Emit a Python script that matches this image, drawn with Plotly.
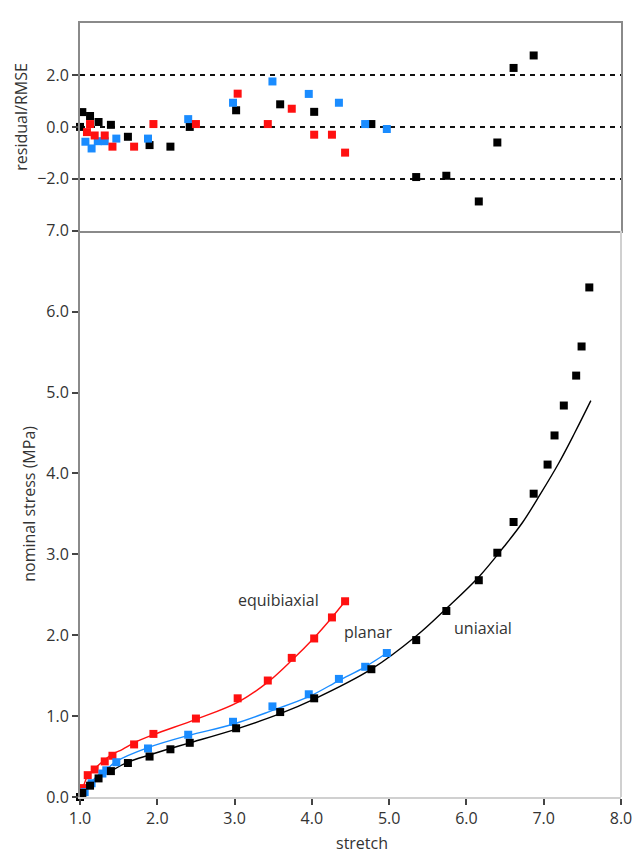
import plotly.graph_objects as go

# ---- measured stress-stretch data (MPa) ----
uni_x = [1.00, 1.03, 1.13, 1.24, 1.40, 1.62, 1.90, 2.17, 2.42, 3.02, 3.59, 4.03, 4.77,
         5.35, 5.74, 6.16, 6.40, 6.61, 6.87, 7.05, 7.14, 7.26, 7.42, 7.49, 7.59]
uni_y = [0.00, 0.05, 0.14, 0.23, 0.32, 0.42, 0.50, 0.59, 0.67, 0.85, 1.05, 1.22, 1.58,
         1.94, 2.30, 2.68, 3.02, 3.40, 3.75, 4.11, 4.47, 4.84, 5.21, 5.57, 6.30]

equi_x = [1.04, 1.10, 1.19, 1.32, 1.42, 1.70, 1.95, 2.50, 3.04, 3.43, 3.74, 4.03, 4.26, 4.43]
equi_y = [0.11, 0.27, 0.34, 0.44, 0.51, 0.65, 0.78, 0.97, 1.22, 1.44, 1.72, 1.96, 2.22, 2.42]

plan_x = [1.06, 1.15, 1.29, 1.34, 1.47, 1.88, 2.40, 2.98, 3.49, 3.96, 4.35, 4.69, 4.97]
plan_y = [0.06, 0.17, 0.29, 0.33, 0.43, 0.60, 0.77, 0.93, 1.12, 1.27, 1.46, 1.61, 1.78]

# ---- fitted model curves ----
uni_fit_x = [1.00, 1.05, 1.13, 1.24, 1.40, 1.62, 1.90, 2.17, 2.42, 3.02, 3.59, 4.03, 4.77,
             5.35, 5.74, 6.16, 6.49, 6.73, 6.96, 7.19, 7.40, 7.61]
uni_fit_y = [0.00, 0.07, 0.15, 0.23, 0.32, 0.43, 0.52, 0.60, 0.67, 0.84, 1.03, 1.21, 1.58,
             1.99, 2.33, 2.72, 3.10, 3.40, 3.75, 4.12, 4.50, 4.90]

equi_fit_x = [1.00, 1.04, 1.10, 1.19, 1.32, 1.42, 1.55, 1.70, 1.95, 2.50, 3.04, 3.43,
              3.74, 4.03, 4.26, 4.43]
equi_fit_y = [0.00, 0.12, 0.26, 0.35, 0.46, 0.53, 0.59, 0.67, 0.77, 0.96, 1.17, 1.42,
              1.69, 1.97, 2.22, 2.42]

plan_fit_x = [1.00, 1.06, 1.15, 1.25, 1.34, 1.47, 1.88, 2.40, 2.98, 3.49, 3.96, 4.35, 4.69, 4.97]
plan_fit_y = [0.00, 0.08, 0.19, 0.28, 0.34, 0.44, 0.61, 0.76, 0.90, 1.07, 1.24, 1.44, 1.61, 1.78]

# ---- normalised residuals ----
uni_res_x = [1.00, 1.03, 1.13, 1.24, 1.40, 1.62, 1.90, 2.17, 2.42, 3.02, 3.59, 4.03, 4.77,
             5.35, 5.74, 6.16, 6.40, 6.61, 6.87]
uni_res = [0.00, 0.57, 0.42, 0.19, 0.08, -0.38, -0.70, -0.76, 0.00, 0.64, 0.87, 0.58, 0.11,
           -1.93, -1.88, -2.87, -0.60, 2.27, 2.75]

equi_res_x = [1.09, 1.13, 1.19, 1.32, 1.42, 1.70, 1.95, 2.50, 3.04, 3.43, 3.74, 4.03, 4.26, 4.43]
equi_res = [-0.20, 0.11, -0.33, -0.33, -0.76, -0.76, 0.11, 0.11, 1.28, 0.11, 0.70, -0.30,
            -0.30, -0.99]

plan_res_x = [1.07, 1.15, 1.23, 1.32, 1.47, 1.88, 2.40, 2.98, 3.49, 3.96, 4.35, 4.69, 4.97]
plan_res = [-0.57, -0.83, -0.55, -0.55, -0.45, -0.45, 0.30, 0.93, 1.75, 1.27, 0.93, 0.11, -0.08]

x_ticks = [1, 2, 3, 4, 5, 6, 7, 8]
stress_ticks = [0, 1, 2, 3, 4, 5, 6, 7]
res_ticks = [-2, 0, 2]

BLACK = "#000000"
RED = "#ff1010"
BLUE = "#1a8cff"
FONT = "Open Sans"
TXT = "#333333"
FRAME = "#8a8a8a"
LIGHT = "#d0d0d0"

fig = go.Figure()

# fitted curves
for fx, fy, c in [(uni_fit_x, uni_fit_y, BLACK), (plan_fit_x, plan_fit_y, BLUE),
                  (equi_fit_x, equi_fit_y, RED)]:
    fig.add_trace(go.Scatter(x=fx, y=fy, mode="lines", line=dict(color=c, width=1.4, shape="spline"),
                             hoverinfo="skip", showlegend=False, xaxis="x", yaxis="y"))

# measured points
for dx, dy, c in [(equi_x, equi_y, RED), (plan_x, plan_y, BLUE), (uni_x, uni_y, BLACK)]:
    fig.add_trace(go.Scatter(x=dx, y=dy, mode="markers",
                             marker=dict(symbol="square", size=8, color=c),
                             cliponaxis=False, showlegend=False, xaxis="x", yaxis="y"))

# residuals
for rx, ry, c in [(uni_res_x, uni_res, BLACK), (plan_res_x, plan_res, BLUE),
                  (equi_res_x, equi_res, RED)]:
    fig.add_trace(go.Scatter(x=rx, y=ry, mode="markers",
                             marker=dict(symbol="square", size=8, color=c),
                             cliponaxis=False, showlegend=False, xaxis="x2", yaxis="y2"))

split = 0.7315
tickfont = dict(family=FONT, size=16, color=TXT)

fig.update_layout(
    width=644, height=855,
    margin=dict(l=80, r=12, t=13, b=58),
    paper_bgcolor="white", plot_bgcolor="white",
    font=dict(family=FONT, color=TXT),
    xaxis=dict(domain=[0, 1], range=[1, 8], tickvals=x_ticks, tickformat=".1f",
               showgrid=False, zeroline=False, showline=True, linecolor=LIGHT, linewidth=2,
               ticks="outside", ticklen=6, tickwidth=1.5, tickcolor="#444",
               tickfont=tickfont, anchor="y"),
    yaxis=dict(domain=[0, split], range=[0, 7], tickvals=stress_ticks, tickformat=".1f",
               showgrid=False, zeroline=False, showline=True, linecolor=FRAME, linewidth=2,
               ticks="outside", ticklen=6, tickwidth=1.5, tickcolor="#444",
               tickfont=tickfont, anchor="x"),
    xaxis2=dict(domain=[0, 1], range=[1, 8], showticklabels=False, ticks="",
                showgrid=False, zeroline=False, showline=True, mirror=True,
                linecolor=FRAME, linewidth=2, anchor="y2"),
    yaxis2=dict(domain=[split, 1], range=[-4, 4], tickvals=res_ticks, tickformat=".1f",
                showgrid=True, gridcolor="#111", gridwidth=1.5, griddash="5px,5px",
                zeroline=False, showline=True, mirror=True, linecolor=FRAME, linewidth=2,
                ticks="outside", ticklen=6, tickwidth=1.5, tickcolor="#444",
                tickfont=tickfont, anchor="x2"),
)

# light right edge of the stress panel
fig.add_shape(type="line", xref="paper", yref="paper", x0=1, x1=1, y0=0, y1=split,
              line=dict(color=LIGHT, width=2))

# axis titles
title_font = dict(family=FONT, size=16, color=TXT)
fig.add_annotation(text="stretch", xref="paper", yref="paper", x=0.522, y=-0.059,
                   xanchor="center", yanchor="middle", showarrow=False, font=title_font)
fig.add_annotation(text="nominal stress (MPa)", xref="paper", yref="paper", x=-0.094,
                   y=0.379, xanchor="center", yanchor="middle", textangle=-90,
                   showarrow=False, font=title_font)
fig.add_annotation(text="residual/RMSE", xref="paper", yref="paper", x=-0.109,
                   y=0.879, xanchor="center", yanchor="middle", textangle=-90,
                   showarrow=False, font=title_font)

# curve labels
for txt, lx, ly in [("equibiaxial", 3.57, 2.43), ("planar", 4.72, 2.04), ("uniaxial", 6.22, 2.09)]:
    fig.add_annotation(text=txt, x=lx, y=ly, xref="x", yref="y", showarrow=False,
                       xanchor="center", yanchor="middle", font=title_font)

fig.write_html("out.html")
